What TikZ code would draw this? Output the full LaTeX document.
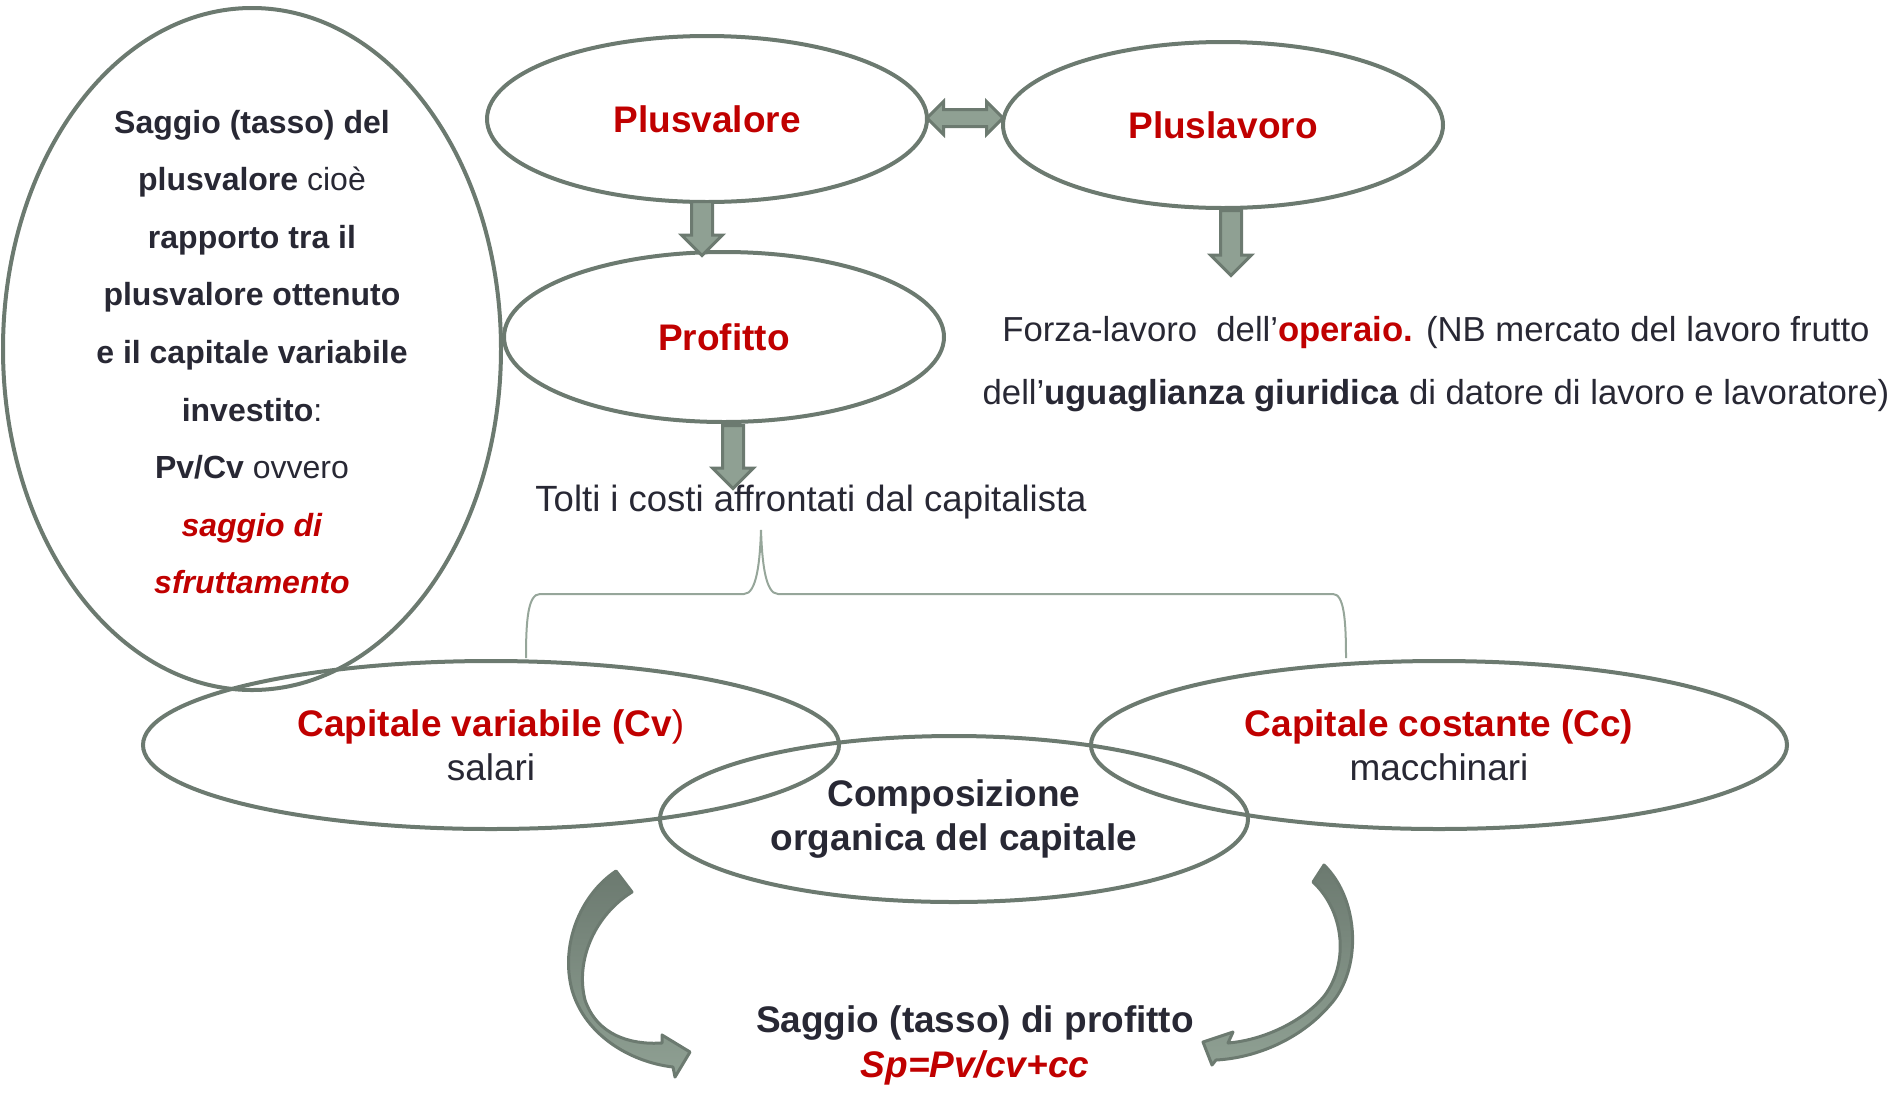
\documentclass[tikz,border=0pt]{standalone}
\usepackage{fontspec}
\setmainfont{Liberation Sans}
\usetikzlibrary{shapes.geometric, shapes.arrows, calc}

\definecolor{ovalline}{RGB}{108,122,112}
\definecolor{arrowfill}{RGB}{143,160,147}
\definecolor{bracegray}{RGB}{150,166,154}
\definecolor{keyred}{RGB}{192,0,0}
\definecolor{inkdark}{RGB}{40,40,52}

\newcommand{\labelfont}{\fontsize{37}{44}\selectfont}
\newcommand{\notefont}{\fontsize{32}{57.6}\selectfont}
\newcommand{\plainfont}{\fontsize{34.7}{63}\selectfont}
\newcommand{\kw}[1]{\textcolor{keyred}{\textbf{#1}}}

\tikzset{
  oval/.style={ellipse, draw=ovalline, line width=4pt, inner sep=0pt, align=center, text=inkdark},
  blockarrow/.style={single arrow, draw=ovalline, fill=arrowfill, line width=3pt, inner xsep=0pt, inner ysep=9pt,
    minimum width=40pt, single arrow head extend=10pt, rotate=-90, anchor=tail},
  botharrow/.style={double arrow, draw=ovalline, fill=arrowfill, line width=3pt, inner xsep=0pt, inner ysep=7pt,
    minimum width=32pt, double arrow head extend=8pt},
  curvearrow/.style={draw=ovalline, line width=3pt, line join=round, top color=ovalline, bottom color=arrowfill},
}

\begin{document}
\begin{tikzpicture}[x=1pt, y=-1pt]
  \useasboundingbox (0,0) rectangle (1901,1096);

  % top row
  \node[oval, minimum width=440, minimum height=166, font=\labelfont] (plusv) at (707,119) {\kw{Plusvalore}};
  \node[oval, minimum width=440, minimum height=166, font=\labelfont] (plusl) at (1223,125) {\kw{Pluslavoro}};
  \node[oval, minimum width=440, minimum height=170, font=\labelfont] (profitto) at (724,337) {\kw{Profitto}};

  % left oval
  \node[oval, minimum width=498, minimum height=682] (saggio) at (252,349) {};
  \node[font=\notefont, text=inkdark, align=center] (saggiotxt) at ($(saggio.center)+(0,3)$) {
    \textbf{Saggio (tasso) del}\\
    \textbf{plusvalore} cioè\\
    \textbf{rapporto tra il}\\
    \textbf{plusvalore ottenuto}\\
    \textbf{e il capitale variabile}\\
    \textbf{investito}:\\
    \textbf{Pv/Cv} ovvero\\
    \textcolor{keyred}{\textbf{\textit{saggio di}}}\\
    \textcolor{keyred}{\textbf{\textit{sfruttamento}}}};

  % texts
  \node[font=\plainfont, text=inkdark, align=center] (forza) at (1436,364) {
    Forza-lavoro\ \ dell’\kw{operaio.} (NB mercato del lavoro frutto\\
    dell’\textbf{uguaglianza giuridica} di datore di lavoro e lavoratore)};
  \node[font=\fontsize{36.5}{44}\selectfont, text=inkdark] (tolti) at (811,502) {Tolti i costi affrontati dal capitalista};

  % bottom row
  \node[oval, minimum width=696, minimum height=168, font=\labelfont] (cv) at (491,745) {\kw{Capitale variabile (Cv}\textcolor{keyred}{)}\\salari};
  \node[oval, minimum width=696, minimum height=168, font=\labelfont] (cc) at (1439,745) {\kw{Capitale costante (Cc)}\\macchinari};
  \node[oval, minimum width=588, minimum height=166, font=\labelfont] (comp) at (954,819) {\textbf{Composizione}\\\textbf{organica del capitale}};
  \node[font=\fontsize{37}{45}\selectfont, text=inkdark, align=center] (sp) at (975,1045) {
    \textbf{Saggio (tasso) di profitto}\\\textcolor{keyred}{\textbf{\textit{Sp=Pv/cv+cc}}}};

  % block arrows
  \node[botharrow, minimum height=76] (link) at ($(plusv.east)!0.5!(plusl.west)+(0,-4)$) {};
  \node[blockarrow, minimum height=54] (down1) at ($(plusv.south)+(-5,-4)$) {};
  \node[blockarrow, minimum height=65] (down2) at ($(plusl.south)+(8,-1)$) {};
  \node[blockarrow, minimum height=63] (down3) at ($(profitto.south)+(9,0)$) {};

  % bracket
  \draw[bracegray, line width=2pt] (526,658) .. controls (526,620) and (528,594) .. (540,594) -- (744,594)
    .. controls (757,594) and (760,560) .. (761,530) .. controls (762,560) and (765,594) .. (778,594)
    -- (1333,594) .. controls (1344,594) and (1346,620) .. (1346,658);

  % curved arrows
  \path[curvearrow] (616,871) -- (632,892) .. controls (595,915) and (575,960) .. (585,1000)
    .. controls (597,1035) and (630,1045) .. (662,1043) -- (662,1035) -- (690,1052) -- (675,1077) -- (673,1067)
    .. controls (630,1062) and (585,1035) .. (572,990) .. controls (560,945) and (580,895) .. (616,871) -- cycle;
  \path[curvearrow] (1313,882) -- (1324,865) .. controls (1360,900) and (1362,970) .. (1330,1005)
    .. controls (1300,1040) and (1255,1058) .. (1216,1060) -- (1212,1065) -- (1203,1042) -- (1233,1032) -- (1228,1043)
    .. controls (1265,1040) and (1305,1020) .. (1325,995) .. controls (1350,960) and (1343,910) .. (1313,882) -- cycle;
\end{tikzpicture}
\end{document}
